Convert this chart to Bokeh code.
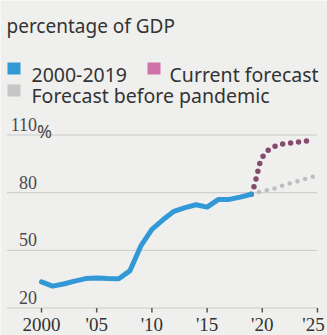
from bokeh.plotting import figure
from bokeh.models import Range1d, LabelSet, Label, ColumnDataSource, BoxAnnotation
from bokeh.embed import file_html
from bokeh.resources import INLINE

# ---------------- data ----------------
title_text = "percentage of GDP"
legend_labels = ["2000-2019", "Current forecast", "Forecast before pandemic"]

years_hist = [2000, 2001, 2002, 2003, 2004, 2005, 2006, 2007, 2008, 2009,
              2010, 2011, 2012, 2013, 2014, 2015, 2016, 2017, 2018, 2019]
debt_hist = [33.6, 31.4, 32.5, 34.0, 35.3, 35.6, 35.3, 35.2, 39.3, 52.3,
             60.9, 65.9, 70.3, 72.2, 73.7, 72.5, 76.4, 76.5, 77.7, 79.2]

years_current = [2019, 2019.3, 2019.55, 2019.8, 2020.2, 2020.8, 2021.5, 2022.5, 2023.5, 2024.4]
debt_current = [79.2, 84.0, 90.0, 96.0, 100.5, 103.3, 105.0, 105.8, 106.5, 107.2]

years_pre = [2019, 2020, 2021, 2022, 2023, 2024, 2025]
debt_pre = [79.2, 80.8, 82.0, 84.0, 85.6, 87.3, 89.0]

x_ticks = [2000, 2005, 2010, 2015, 2020, 2025]
x_tick_labels = ["2000", "'05", "'10", "'15", "'20", "'25"]
y_ticks = [20, 50, 80, 110]
y_tick_labels = ["20", "50", "80", "110"]
y_unit = "%"

# ---------------- layout / style ----------------
W, H = 327, 335
PXX = 11.04        # px per year
X_ORIGIN = 41      # px from left of first x tick
PXY = 1.922        # px per percentage point
Y_BASE = 307.5     # px from top of lowest y tick
BG = "#efefed"
FONT = "Noto Sans"
TEXT = "#333333"
BLUE = "#3399d6"
PURPLE_DOT = "#874a6f"
PURPLE_KEY = "#d071a9"
GRAY_DOT = "#bdbdbd"
GRAY_KEY = "#c6c6c6"

x_start = x_ticks[0] - X_ORIGIN / PXX
x_end = x_start + W / PXX
y_start = y_ticks[0] - (H - Y_BASE) / PXY
y_end = y_start + H / PXY

p = figure(width=W, height=H, x_range=Range1d(x_start, x_end), y_range=Range1d(y_start, y_end),
           x_axis_type=None, y_axis_type=None, title=None,
           output_backend="svg", toolbar_location=None, min_border=0,
           background_fill_color=BG, border_fill_color=BG, outline_line_color=None)

# gridlines (dotted), starting near the left edge
grid_left = x_start + 7 / PXX
p.segment(x0=[grid_left] * len(y_ticks), x1=[x_ticks[-1]] * len(y_ticks), y0=y_ticks, y1=y_ticks,
          line_color="#a5a5a5", line_width=1, line_dash="1 1")

# x ticks
tick_len = 4.5 / PXY
p.segment(x0=x_ticks, x1=x_ticks, y0=[y_ticks[0]] * len(x_ticks),
          y1=[y_ticks[0] - tick_len] * len(x_ticks), line_color="#555555", line_width=1.5)

# series
p.line(years_pre, debt_pre, line_color=GRAY_DOT, line_width=4.5, line_dash="0 8",
       line_cap="round", line_join="round")
p.line(years_current, debt_current, line_color=PURPLE_DOT, line_width=5.5, line_dash="0 8",
       line_cap="round", line_join="round")
p.line(years_hist, debt_hist, line_color=BLUE, line_width=5, line_join="round", line_cap="round")

# x tick labels (last one nudged left to stay inside the edge)
x_shift = [0] * (len(x_ticks) - 1) + [-4]
xsrc = ColumnDataSource(dict(x=x_ticks, y=[y_ticks[0]] * len(x_ticks), t=x_tick_labels, dx=x_shift))
p.add_layout(LabelSet(x="x", y="y", text="t", source=xsrc, text_align="center",
                      text_baseline="alphabetic", x_offset="dx", y_offset=-22.5, text_font=FONT,
                      text_font_size="19px", text_color=TEXT))

# y tick labels (above gridlines)
ysrc = ColumnDataSource(dict(y=y_ticks, t=y_tick_labels))
p.add_layout(LabelSet(x=36.5, y="y", x_units="screen", text="t", source=ysrc, text_align="right",
                      text_baseline="alphabetic", y_offset=4, text_font=FONT,
                      text_font_size="18px", text_color="#4a4a4a"))
p.add_layout(Label(x=36.5, y=y_ticks[-1], x_units="screen", text=y_unit, text_align="left",
                   text_baseline="alphabetic", y_offset=4, text_font=FONT,
                   text_font_size="18px", text_color="#4a4a4a"))

# title
p.add_layout(Label(x=6, y=H - 25, x_units="screen", y_units="screen", text=title_text,
                   text_baseline="alphabetic", text_font=FONT, text_font_size="19px",
                   text_color=TEXT))

# legend
def key(left, top, color):
    p.add_layout(BoxAnnotation(left=left, right=left + 13, top=H - top, bottom=H - top - 12,
                               left_units="screen", right_units="screen",
                               top_units="screen", bottom_units="screen",
                               fill_color=color, fill_alpha=1, line_color=None))

def ltext(x, baseline, t):
    p.add_layout(Label(x=x, y=H - baseline, x_units="screen", y_units="screen", text=t,
                       text_baseline="alphabetic", text_font=FONT, text_font_size="19.5px",
                       text_color=TEXT))

key(7, 62, BLUE)
ltext(31, 74, legend_labels[0])
key(147, 62, PURPLE_KEY)
ltext(169, 74, legend_labels[1])
key(7, 84, GRAY_KEY)
ltext(31, 95, legend_labels[2])

open("out.html", "w").write(file_html(p, INLINE))
